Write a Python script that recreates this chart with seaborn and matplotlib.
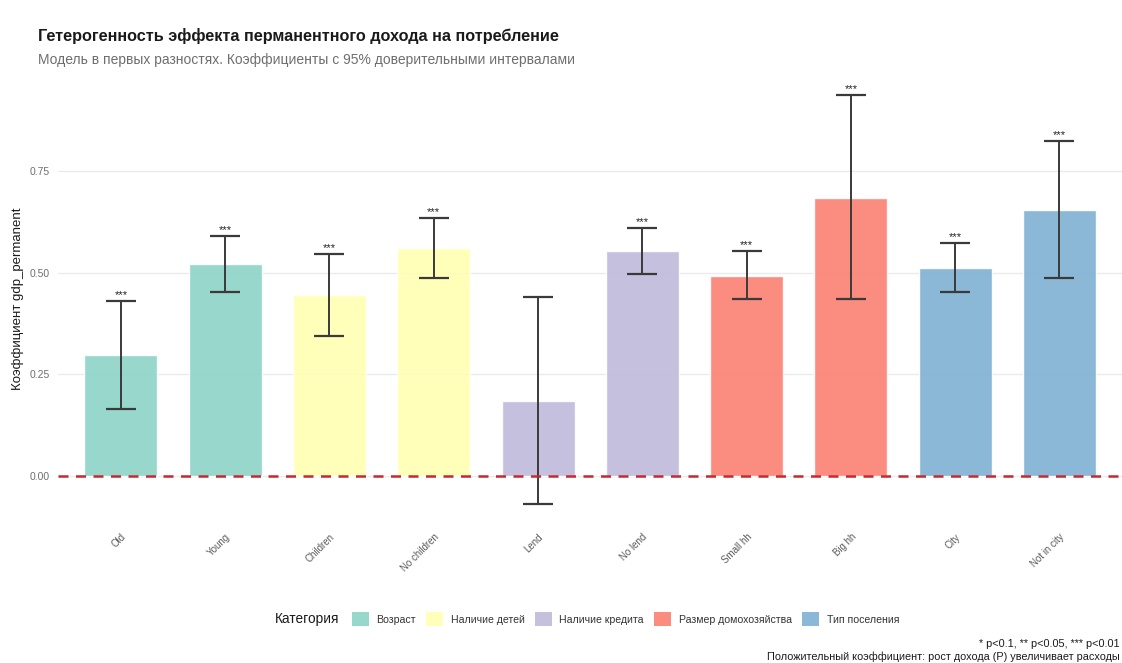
import numpy as np
import pandas as pd
import matplotlib
matplotlib.use("Agg")
import matplotlib.pyplot as plt
import seaborn as sns
from matplotlib.patches import Patch

# Coefficient estimates by subgroup
groups = ["Old", "Young", "Children", "No children", "Lend", "No lend",
          "Small hh", "Big hh", "City", "Not in city"]
categories = ["Возраст", "Возраст", "Наличие детей", "Наличие детей",
              "Наличие кредита", "Наличие кредита",
              "Размер домохозяйства", "Размер домохозяйства",
              "Тип поселения", "Тип поселения"]
coef = [0.298, 0.521, 0.445, 0.561, 0.184, 0.553, 0.492, 0.684, 0.511, 0.654]
ci_low = [0.165, 0.452, 0.344, 0.487, -0.069, 0.497, 0.435, 0.435, 0.452, 0.487]
ci_high = [0.430, 0.590, 0.546, 0.634, 0.440, 0.610, 0.553, 0.937, 0.573, 0.824]
stars = ["***", "***", "***", "***", "", "***", "***", "***", "***", "***"]
category_order = ["Возраст", "Наличие детей", "Наличие кредита",
                  "Размер домохозяйства", "Тип поселения"]
palette = ["#8DD3C7", "#FFFFB3", "#BEBADA", "#FB8072", "#80B1D3"]

df = pd.DataFrame({"group": groups, "category": categories, "coef": coef,
                   "lo": ci_low, "hi": ci_high, "stars": stars})

sns.set_theme(style="white")
plt.rcParams["font.family"] = ["Liberation Sans", "DejaVu Sans"]

fig = plt.figure(figsize=(11.22, 6.63), dpi=100)
ax = fig.add_axes([0.052, 0.208, 0.948, 0.682])

sns.barplot(data=df, x="group", y="coef", hue="category", order=groups,
            hue_order=category_order, palette=palette, dodge=False,
            saturation=1, width=0.7, alpha=0.9, legend=False, ax=ax,
            errorbar=None)

xs = np.arange(len(groups))
lo = df["lo"].to_numpy()
hi = df["hi"].to_numpy()
c = df["coef"].to_numpy()
ax.errorbar(xs, c, yerr=[c - lo, hi - c], fmt="none", ecolor="#3A3A3A",
            elinewidth=1.4, capsize=10.5, capthick=1.6, zorder=4)
for x, h, s in zip(xs, hi, df["stars"]):
    if s:
        ax.text(x, h + 0.002, s, ha="center", va="bottom", fontsize=8,
                color="#222222", zorder=5)

ax.axhline(0, color="#C8282F", linestyle=(0, (4, 3)), linewidth=1.8, zorder=5)

ax.set_xlim(-0.6, len(groups) - 0.4)
ax.set_ylim(-0.1205, 0.991)
ax.set_yticks([0, 0.25, 0.5, 0.75])
ax.set_yticklabels(["0.00", "0.25", "0.50", "0.75"])
ax.yaxis.grid(True, color="#EBEBEB", linewidth=1)
ax.xaxis.grid(False)
ax.set_axisbelow(True)
for sp in ax.spines.values():
    sp.set_visible(False)
ax.tick_params(axis="y", labelsize=7.5, labelcolor="#6E6E6E", length=0, pad=6)
ax.tick_params(axis="x", labelsize=7, labelcolor="#5A5A5A", length=0, pad=5)
for lbl in ax.get_xticklabels():
    lbl.set_rotation(45)
    lbl.set_ha("right")
    lbl.set_rotation_mode("anchor")
ax.set_xlabel("")
ax.set_ylabel("Коэффициент gdp_permanent", fontsize=9.5, color="#1A1A1A",
              labelpad=4)

fig.text(0.034, 0.938, "Гетерогенность эффекта перманентного дохода на потребление",
         fontsize=11.7, fontweight="bold", color="#1A1A1A")
fig.text(0.034, 0.903, "Модель в первых разностях. Коэффициенты с 95% доверительными интервалами",
         fontsize=10, color="#6E6E6E")

handles = [Patch(facecolor=col, alpha=0.9, edgecolor="none") for col in palette]
fig.text(0.245, 0.066, "Категория", fontsize=9.8, color="#1A1A1A", va="center")
fig.legend(handles, category_order, loc="center", bbox_to_anchor=(0.5575, 0.066),
           ncol=5, frameon=False, fontsize=7.6, handlelength=1.6,
           handleheight=1.6, columnspacing=1.0, handletextpad=0.7,
           labelcolor="#333333")

fig.text(0.998, 0.024, "* p<0.1, ** p<0.05, *** p<0.01", ha="right",
         fontsize=7.8, color="#1A1A1A")
fig.text(0.998, 0.005, "Положительный коэффициент: рост дохода (P) увеличивает расходы",
         ha="right", fontsize=7.8, color="#1A1A1A")

fig.savefig("out.png", dpi=100, facecolor="white")
